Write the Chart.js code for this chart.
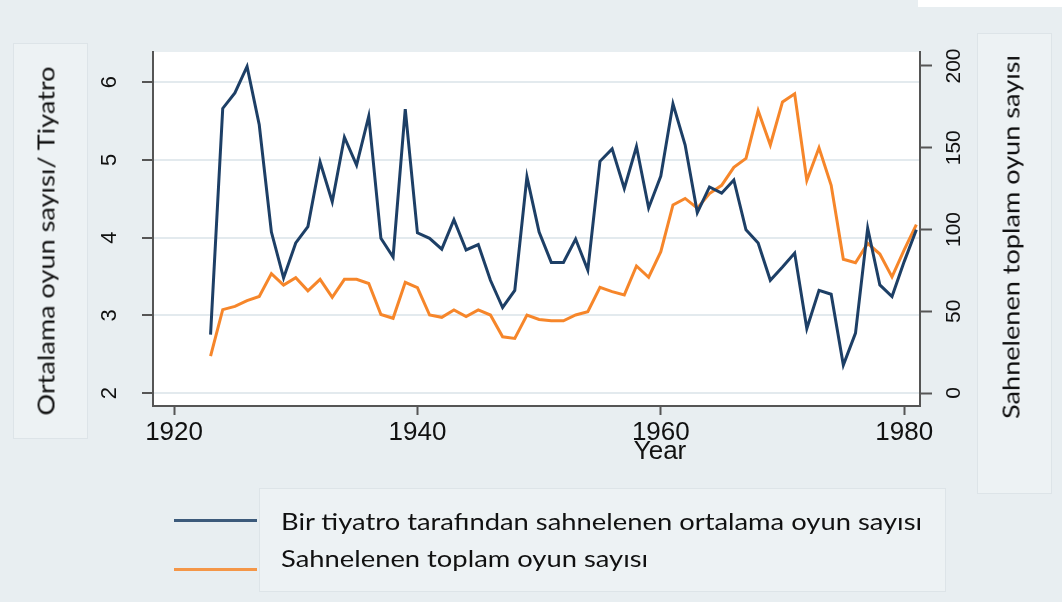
<!DOCTYPE html>
<html>
<head>
<meta charset="utf-8">
<script src="https://cdn.jsdelivr.net/npm/chart.js@4"></script>
<style>
  body { margin: 0; background: #e8eef1; }
  #wrap { position: relative; width: 1062px; height: 602px; overflow: hidden; }
  #myChart { position: absolute; left: 0; top: 0; z-index: 2; }
  .box { position: absolute; background: #edf2f4; border: 1px solid #dde4e8; z-index: 1; }
  .rot { position: absolute; transform: translate(-50%, -50%) rotate(-90deg) scaleX(1.13); white-space: nowrap;
         font-family: Lato, "Open Sans", sans-serif; color: #111; z-index: 3; }
  #year { position: absolute; left: 660px; top: 450px; transform: translate(-50%, -50%);
          font-family: "Liberation Sans", Arial, sans-serif; font-size: 26px; color: #111; z-index: 3; }
  #legend { position: absolute; left: 0; top: 0; z-index: 3; font-family: Lato, "Open Sans", sans-serif; }
  .lg-line { position: absolute; height: 3px; }
  .lg-text { position: absolute; font-size: 24px; color: #111; white-space: nowrap;
             transform-origin: left center; transform: translateY(-50%) scaleX(1.14); }
</style>
</head>
<body>
<div id="wrap">
  <div style="position:absolute;left:918px;top:0;width:144px;height:7px;background:#fff"></div>
  <div class="box" style="left:13px;top:43px;width:73px;height:394px"></div>
  <div class="box" style="left:977px;top:33px;width:73px;height:459px"></div>
  <div class="box" style="left:259px;top:488px;width:685px;height:102px"></div>
  <div class="rot" style="left:45px;top:241px;font-size:24px">Ortalama oyun sayısı/ Tiyatro</div>
  <div class="rot" style="left:1010px;top:237px;font-size:24px">Sahnelenen toplam oyun sayısı</div>
  <div id="year">Year</div>
  <div id="legend"></div>
  <canvas id="myChart" width="1062" height="602"></canvas>
</div>
<script>
const years = [1923,1924,1925,1926,1927,1928,1929,1930,1931,1932,1933,1934,1935,1936,1937,1938,1939,1940,
  1941,1942,1943,1944,1945,1946,1947,1948,1949,1950,1951,1952,1953,1954,1955,1956,1957,1958,1959,1960,
  1961,1962,1963,1964,1965,1966,1967,1968,1969,1970,1971,1972,1973,1974,1975,1976,1977,1978,1979,1980,1981];

// ortalama oyun sayisi / tiyatro (left axis)
const avgPlays = [2.75,5.66,5.86,6.20,5.45,4.07,3.48,3.93,4.14,4.97,4.46,5.29,4.93,5.56,3.99,3.75,5.65,4.06,
  3.99,3.85,4.23,3.84,3.91,3.45,3.10,3.32,4.78,4.07,3.68,3.68,3.98,3.58,4.98,5.14,4.63,5.17,4.38,4.79,
  5.72,5.19,4.32,4.65,4.57,4.74,4.10,3.93,3.45,3.62,3.80,2.83,3.32,3.27,2.36,2.77,4.12,3.39,3.24,3.69,4.10];

// toplam oyun sayisi (right axis)
const totalPlays = [22.6,51,53,56.5,59,73,66,70.5,62.5,69.5,58.5,69.5,69.5,67,48,45.7,67.7,64.4,
  47.7,46.3,50.8,46.7,50.8,47.7,34.4,33.4,47.7,45,44.2,44.2,47.7,49.7,64.6,62,60,77.7,70.8,86.4,
  115,119,113,122,127,138,143.5,172.7,151.7,178,183,130,150,127,81.8,79.7,91.5,85,71,87.5,103];

const xTicks = [1920, 1940, 1960, 1980];
const leftTicks = [2, 3, 4, 5, 6];
const rightTicks = [0, 50, 100, 150, 200];

const seriesNames = ['Bir tiyatro tarafından sahnelenen ortalama oyun sayısı', 'Sahnelenen toplam oyun sayısı'];
const seriesColors = ['#1d3f66', '#f6862a'];

const axisColor = '#555';

const plotBg = {
  id: 'plotBg',
  beforeDraw(chart) {
    const a = chart.chartArea, ctx = chart.ctx;
    ctx.save();
    ctx.fillStyle = '#ffffff';
    ctx.fillRect(a.left, a.top, a.right - a.left, a.bottom - a.top);
    ctx.restore();
  }
};

function fixTicks(list) {
  return function (scale) { scale.ticks = list.map(v => ({ value: v })); };
}

const ctx = document.getElementById('myChart').getContext('2d');
const myChart = new Chart(ctx, {
  type: 'line',
  data: {
    datasets: [{
      label: seriesNames[0],
      data: years.map((y, i) => ({ x: y, y: avgPlays[i] })),
      borderColor: seriesColors[0],
      borderWidth: 3,
      pointRadius: 0,
      tension: 0,
      yAxisID: 'yL'
    }, {
      label: seriesNames[1],
      data: years.map((y, i) => ({ x: y, y: totalPlays[i] })),
      borderColor: seriesColors[1],
      borderWidth: 3,
      pointRadius: 0,
      tension: 0,
      yAxisID: 'yR'
    }]
  },
  options: {
    responsive: false,
    animation: false,
    layout: { padding: { top: 52, left: 0, right: 0, bottom: 0 } },
    plugins: { legend: { display: false }, tooltip: { enabled: false } },
    scales: {
      x: {
        type: 'linear',
        min: 1918.27,
        max: 1981.3,
        afterBuildTicks: fixTicks(xTicks),
        afterFit(scale) { scale.height = 196; },
        grid: { drawOnChartArea: false, drawTicks: true, tickLength: 9, tickColor: axisColor, tickWidth: 2 },
        border: { display: true, color: axisColor, width: 2 },
        ticks: { font: { family: 'Liberation Sans, Arial, sans-serif', size: 26 }, color: '#111', padding: 2,
                 maxRotation: 0, callback: v => String(v) }
      },
      yL: {
        type: 'linear',
        position: 'left',
        min: 1.833,
        max: 6.386,
        afterBuildTicks: fixTicks(leftTicks),
        afterFit(scale) { scale.width = 153; },
        grid: { color: '#e3eaee', lineWidth: 2, tickLength: 11, tickColor: axisColor, tickWidth: 2 },
        border: { display: true, color: axisColor, width: 2 },
        ticks: { font: { family: 'Liberation Sans, Arial, sans-serif', size: 22 }, color: '#111',
                 minRotation: 90, maxRotation: 90, crossAlign: 'center', padding: 26 }
      },
      yR: {
        type: 'linear',
        position: 'right',
        min: -7.95,
        max: 208.56,
        afterBuildTicks: fixTicks(rightTicks),
        afterFit(scale) { scale.width = 142; },
        grid: { drawOnChartArea: false, tickLength: 12, tickColor: axisColor, tickWidth: 2 },
        border: { display: true, color: axisColor, width: 2 },
        ticks: { font: { family: 'Liberation Sans, Arial, sans-serif', size: 21 }, color: '#111',
                 minRotation: 90, maxRotation: 90, crossAlign: 'center', padding: 5 }
      }
    }
  },
  plugins: [plotBg]
});

// html legend from the chart's datasets
const legendRows = [520, 557];
const lineRows = [520, 569];
const legend = document.getElementById('legend');
myChart.data.datasets.forEach((ds, i) => {
  const ln = document.createElement('div');
  ln.className = 'lg-line';
  ln.style.cssText = 'left:174px;width:83px;top:' + (lineRows[i] - 1) + 'px;background:' + ds.borderColor + ';opacity:0.85';
  legend.appendChild(ln);
  const tx = document.createElement('div');
  tx.className = 'lg-text';
  tx.style.left = '281px';
  tx.style.top = legendRows[i] + 'px';
  tx.textContent = ds.label;
  legend.appendChild(tx);
});
</script>
</body>
</html>
